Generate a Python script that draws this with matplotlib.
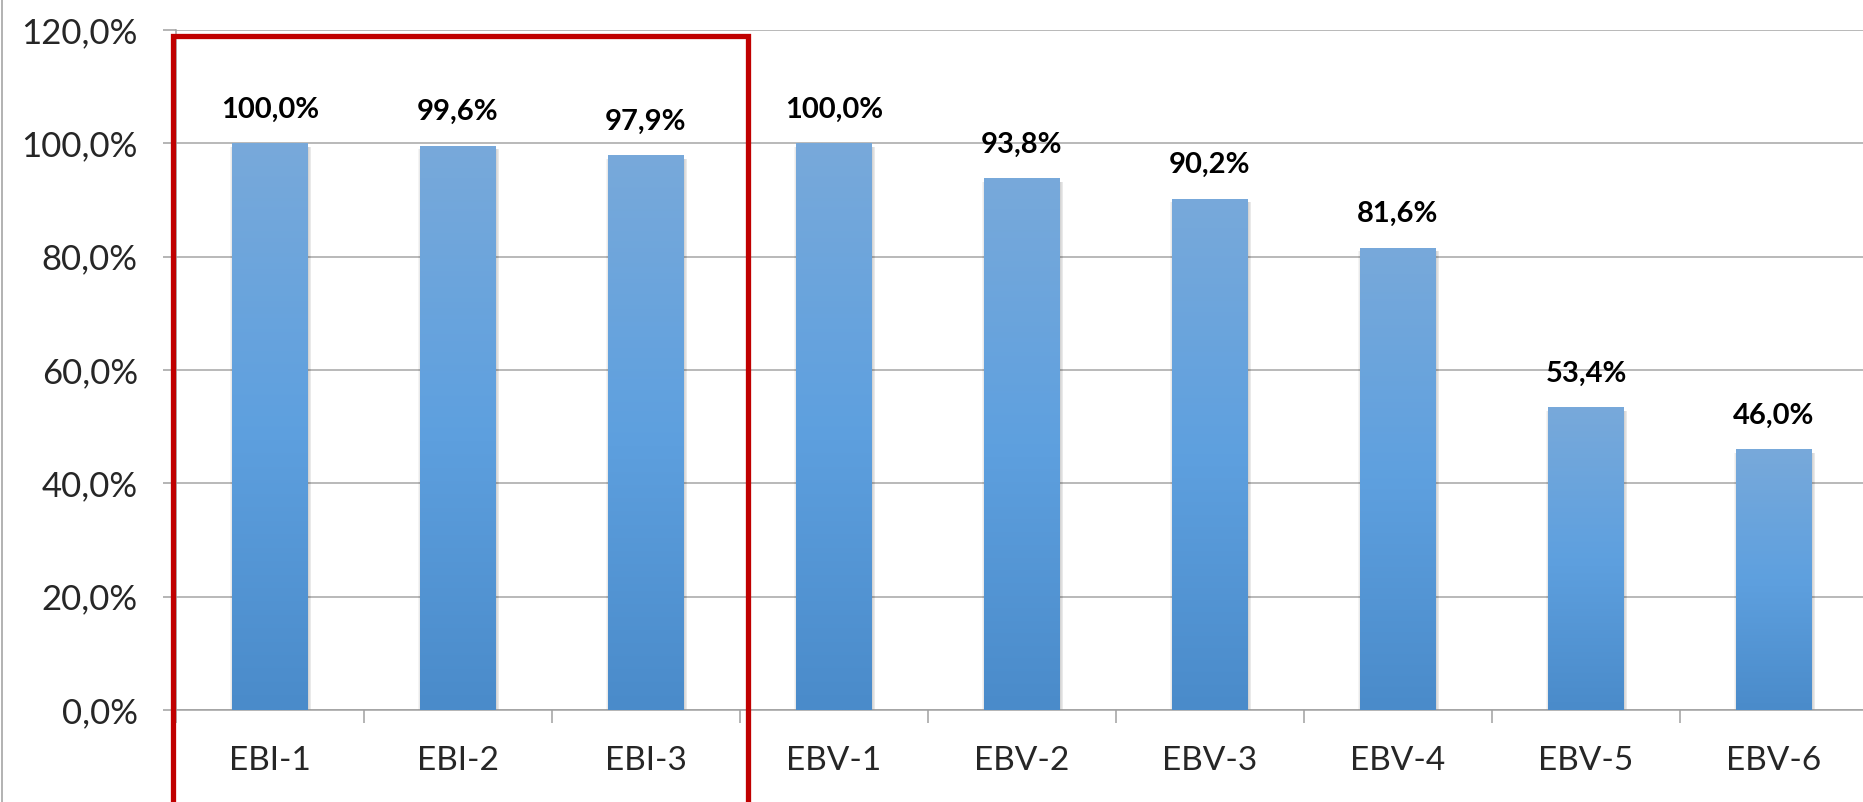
import matplotlib
matplotlib.use("Agg")
import matplotlib.pyplot as plt
import numpy as np
from matplotlib.colors import LinearSegmentedColormap
from matplotlib.lines import Line2D
from matplotlib.patches import Rectangle
from matplotlib.ticker import FuncFormatter, FixedLocator

categories = ["EBI-1", "EBI-2", "EBI-3", "EBV-1", "EBV-2", "EBV-3", "EBV-4", "EBV-5", "EBV-6"]
values = [100.0, 99.6, 97.9, 100.0, 93.8, 90.2, 81.6, 53.4, 46.0]
highlighted = ["EBI-1", "EBI-2", "EBI-3"]
y_ticks = [0, 20, 40, 60, 80, 100, 120]


def pct(v):
    return "{:.1f}%".format(v).replace(".", ",")


plt.rcParams["font.family"] = ["Lato", "DejaVu Sans"]

fig = plt.figure(figsize=(18.63, 8.02), dpi=100)
ax = fig.add_axes([176 / 1863, 92 / 802, 1692 / 1863, 680 / 802])

x = np.arange(len(categories))
bar_w = 0.4

# soft shadow at the sides of the bars
for k in range(1, 5):
    ax.bar(x + 0.004, [v - 0.6 for v in values], width=bar_w + 0.008 * k,
           color="#000000", alpha=0.045, zorder=2, linewidth=0)

bars = ax.bar(x, values, width=bar_w, color="none", linewidth=0, zorder=3)

cmap = LinearSegmentedColormap.from_list("excel", ["#4A8BCA", "#5EA0DF", "#78A9DA"])
grad = np.linspace(0, 1, 256).reshape(-1, 1)
for b in bars:
    x0, y0 = b.get_x(), b.get_y()
    w, h = b.get_width(), b.get_height()
    im = ax.imshow(grad, cmap=cmap, origin="lower", aspect="auto",
                   extent=[x0, x0 + w, y0, y0 + h], zorder=3)
    im.set_clip_path(b)

for xi, v in zip(x, values):
    ax.annotate(pct(v), (xi, v), xytext=(0, 18.5), textcoords="offset points",
                ha="center", va="baseline", fontsize=21, fontweight="bold", color="black")

ax.set_xlim(-0.5, len(categories) - 0.5)
ax.set_ylim(0, 120)
ax.set_yticks(y_ticks)
ax.yaxis.set_major_formatter(FuncFormatter(lambda v, p: pct(v)))
ax.set_xticks(x)
ax.set_xticklabels(categories)
ax.xaxis.set_minor_locator(FixedLocator(np.arange(len(categories) + 1) - 0.5))

ax.tick_params(axis="y", length=9.5, width=1.1, color="#A0A0A0", pad=18,
               labelsize=25, labelcolor="#262626")
ax.tick_params(axis="x", which="major", length=0, pad=26, labelsize=24, labelcolor="#262626")
ax.tick_params(axis="x", which="minor", length=9, width=1.1, color="#A0A0A0")

ax.grid(axis="y", color="#A6A6A6", linewidth=1.1, zorder=0)
ax.set_axisbelow(True)
for s in ["top", "right"]:
    ax.spines[s].set_visible(False)
for s in ["left", "bottom"]:
    ax.spines[s].set_color("#A0A0A0")
    ax.spines[s].set_linewidth(1.1)

# red box around the EBI group
idx = [categories.index(c) for c in highlighted]
box = Rectangle((min(idx) - 0.515, -25), max(idx) - min(idx) + 1.06, 144.0,
                fill=False, edgecolor="#C00000", linewidth=3.8, clip_on=False, zorder=5)
ax.add_patch(box)

# outer frame line on the left edge of the picture
fig.add_artist(Line2D([0.0012, 0.0012], [0, 1], color="#A6A6A6", linewidth=1.2))

fig.savefig("out.png", dpi=100)
